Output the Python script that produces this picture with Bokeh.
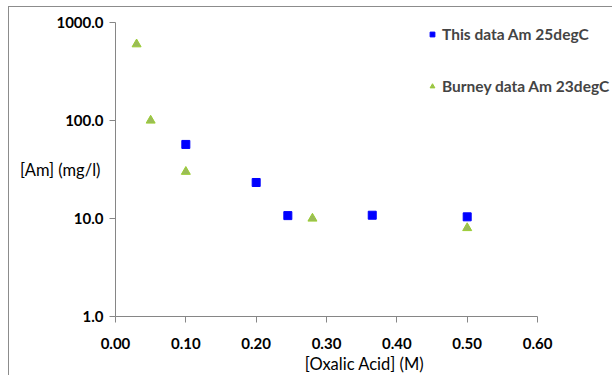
from bokeh.plotting import figure
from bokeh.models import (FixedTicker, PrintfTickFormatter, Legend, LegendItem,
                          Range1d)
from bokeh.embed import file_html
from bokeh.resources import INLINE

# Data
this_x = [0.10, 0.20, 0.245, 0.365, 0.50]
this_y = [57.0, 23.3, 10.7, 10.8, 10.4]
burney_x = [0.03, 0.05, 0.10, 0.28, 0.50]
burney_y = [600.0, 100.0, 30.0, 10.0, 8.0]
x_ticks = [0.0, 0.1, 0.2, 0.3, 0.4, 0.5, 0.6]
y_ticks = [1, 10, 100, 1000]
series_names = ["This data Am 25degC", "Burney data Am 23degC"]

FONT = "Lato"
AXIS_COLOR = "#868686"

p = figure(width=604, height=369, y_axis_type="log",
           x_range=Range1d(0, 0.708), y_range=Range1d(1, 1000),
           output_backend="svg", toolbar_location=None,
           min_border_left=106, min_border_right=0,
           min_border_top=15, min_border_bottom=60)
p.styles = {"border-left": "1px solid #8c8c8c", "border-top": "1px solid #8c8c8c",
            "margin-left": "8px", "margin-top": "6px"}
p.outline_line_color = None
p.grid.visible = False

r1 = p.scatter(this_x, this_y, marker="square", size=8, color="#0000ff")
r2 = p.scatter(burney_x, burney_y, marker="triangle", size=9,
               fill_color="#9bbb59", line_color="#9acd32", line_width=1)

for ax in (p.xaxis[0], p.yaxis[0]):
    ax.axis_line_color = AXIS_COLOR
    ax.major_tick_line_color = AXIS_COLOR
    ax.major_tick_out = 6
    ax.major_tick_in = 0
    ax.minor_tick_line_color = None
    ax.major_label_text_font = FONT
    ax.major_label_text_font_style = "bold"
    ax.major_label_text_font_size = "15px"
    ax.major_label_text_color = "#000000"
    ax.axis_label_text_font = FONT
    ax.axis_label_text_font_style = "normal"
    ax.axis_label_text_font_size = "16.5px"
    ax.axis_label_text_color = "#000000"

p.xaxis.ticker = FixedTicker(ticks=x_ticks)
p.xaxis.bounds = (0, 0.6)
p.xaxis.formatter = PrintfTickFormatter(format="%.2f")
p.xaxis.major_label_standoff = 15
p.xaxis.axis_label = "[Oxalic Acid] (M)"
p.xaxis.axis_label_standoff = 2

p.yaxis.ticker = FixedTicker(ticks=y_ticks)
p.yaxis.formatter = PrintfTickFormatter(format="%.1f")
p.yaxis.major_label_standoff = 6
p.yaxis.axis_label = "[Am] (mg/l)"
p.yaxis.axis_label_orientation = "horizontal"
p.yaxis.axis_label_standoff = -47

legend = Legend(items=[LegendItem(label=series_names[0], renderers=[r1]),
                       LegendItem(label=series_names[1], renderers=[r2])],
                location=(311, 220), glyph_width=12, glyph_height=20,
                label_height=20, label_standoff=4, spacing=32, padding=0,
                margin=0, border_line_color=None, background_fill_alpha=0,
                label_text_font=FONT, label_text_font_style="bold",
                label_text_font_size="15.5px")
p.add_layout(legend)

open("out.html", "w").write(file_html(p, INLINE))
